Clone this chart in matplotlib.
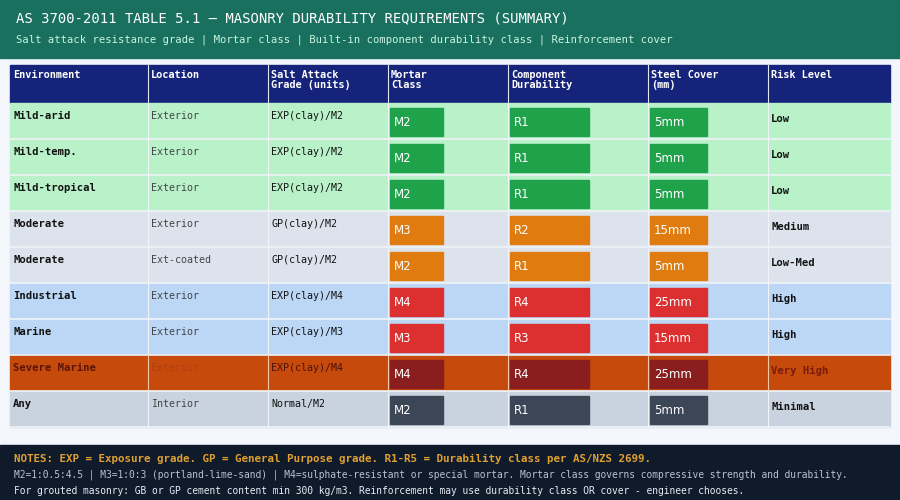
import matplotlib
matplotlib.use("Agg")
import matplotlib.pyplot as plt
from matplotlib.patches import Rectangle

title = "AS 3700-2011 TABLE 5.1 \u2014 MASONRY DURABILITY REQUIREMENTS (SUMMARY)"
subtitle = "Salt attack resistance grade | Mortar class | Built-in component durability class | Reinforcement cover"
headers = ["Environment", "Location", "Salt Attack\nGrade (units)", "Mortar\nClass",
           "Component\nDurability", "Steel Cover\n(mm)", "Risk Level"]
environment = ["Mild-arid", "Mild-temp.", "Mild-tropical", "Moderate", "Moderate",
               "Industrial", "Marine", "Severe Marine", "Any"]
location = ["Exterior", "Exterior", "Exterior", "Exterior", "Ext-coated",
            "Exterior", "Exterior", "Exterior", "Interior"]
salt_grade = ["EXP(clay)/M2", "EXP(clay)/M2", "EXP(clay)/M2", "GP(clay)/M2", "GP(clay)/M2",
              "EXP(clay)/M4", "EXP(clay)/M3", "EXP(clay)/M4", "Normal/M2"]
mortar = ["M2", "M2", "M2", "M3", "M2", "M4", "M3", "M4", "M2"]
component = ["R1", "R1", "R1", "R2", "R1", "R4", "R3", "R4", "R1"]
cover = ["5mm", "5mm", "5mm", "15mm", "5mm", "25mm", "15mm", "25mm", "5mm"]
risk = ["Low", "Low", "Low", "Medium", "Low-Med", "High", "High", "Very High", "Minimal"]
row_bg = ["#b9f2c9", "#b9f2c9", "#b9f2c9", "#dde3ec", "#dde3ec",
          "#bcd7f6", "#bcd7f6", "#c64a0b", "#c9d3df"]
badge = ["#1ea34b", "#1ea34b", "#1ea34b", "#e07c0f", "#e07c0f",
         "#dc2f2f", "#dc2f2f", "#8a1d1d", "#3b4656"]
notes = ["NOTES: EXP = Exposure grade. GP = General Purpose grade. R1-R5 = Durability class per AS/NZS 2699.",
         "M2=1:0.5:4.5 | M3=1:0:3 (portland-lime-sand) | M4=sulphate-resistant or special mortar. Mortar class governs compressive strength and durability.",
         "For grouted masonry: GB or GP cement content min 300 kg/m3. Reinforcement may use durability class OR cover - engineer chooses."]

col_x = [10, 148, 268, 388, 508, 648, 768, 890]
badge_w = [53, 79, 57]
head_top, head_bot, row_h = 65, 103, 36
mono = "DejaVu Sans Mono"

fig = plt.figure(figsize=(9, 5), dpi=100)
ax = fig.add_axes([0, 0, 1, 1])
ax.set_xlim(0, 900)
ax.set_ylim(500, 0)
ax.axis("off")
fig.patch.set_facecolor("#f3f6fa")

ax.add_patch(Rectangle((0, 0), 900, 58, color="#19705f"))
ax.text(16, 18, title, color="white", fontsize=10, family=mono, va="center")
ax.text(16, 40, subtitle, color="#c8f5e0", fontsize=7.6, family=mono, va="center")

ax.add_patch(Rectangle((col_x[0], head_top), col_x[-1] - col_x[0], head_bot - head_top, color="#15237a"))
for j, h in enumerate(headers):
    ax.text(col_x[j] + 3, head_top + 5, h, color="white", fontsize=7.4, family=mono,
            weight="bold", va="top", linespacing=1.05)
    if j > 0:
        ax.plot([col_x[j]] * 2, [head_top, head_bot], color="#dfe6f0", lw=0.8)

for i in range(len(environment)):
    top = head_bot + i * row_h
    severe = row_bg[i] == "#c64a0b"
    ax.add_patch(Rectangle((col_x[0], top), col_x[-1] - col_x[0], row_h, color=row_bg[i]))
    ax.plot([col_x[0], col_x[-1]], [top + row_h] * 2, color="#f0f3f8", lw=1.2)
    for j in range(1, 7):
        ax.plot([col_x[j]] * 2, [top, top + row_h], color="#f0f3f8" if not severe else "#f3c9a8", lw=0.8)
    txt = "#7a1a0a" if severe else "#111111"
    ax.text(col_x[0] + 3, top + 13, environment[i], fontsize=7.6, family=mono, weight="bold",
            color="#5a1408" if severe else "#111111", va="center")
    ax.text(col_x[1] + 3, top + 13, location[i], fontsize=7.2, family=mono,
            color="#b04010" if severe else "#444444", va="center")
    ax.text(col_x[2] + 3, top + 13, salt_grade[i], fontsize=7.2, family=mono,
            color="#4a1208" if severe else "#111111", va="center")
    for k, val in enumerate([mortar[i], component[i], cover[i]]):
        x0 = col_x[3 + k] + 2
        ax.add_patch(Rectangle((x0, top + 5), badge_w[k], 28, color=badge[i]))
        ax.text(x0 + 4, top + 19, val, fontsize=8.5, color="white", va="center")
    ax.text(col_x[6] + 3, top + 16, risk[i], fontsize=7.6, family=mono, weight="bold",
            color=txt, va="center")

ax.add_patch(Rectangle((0, 445), 900, 55, color="#0f1a2b"))
ax.text(14, 459, notes[0], fontsize=7.8, family=mono, weight="bold", color="#e0a030", va="center")
ax.text(14, 475, notes[1], fontsize=6.9, family=mono, color="#b8c2d0", va="center")
ax.text(14, 491, notes[2], fontsize=6.9, family=mono, color="#e8ecf2", va="center")

fig.savefig("out.png", dpi=100, facecolor=fig.get_facecolor())
